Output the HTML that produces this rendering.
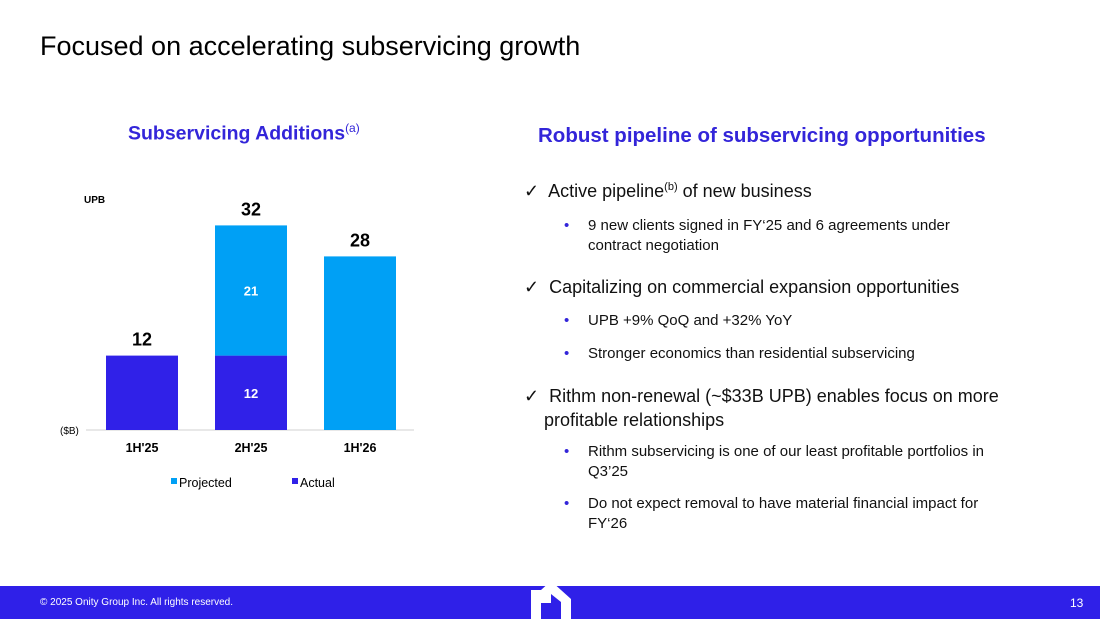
<!DOCTYPE html>
<html><head><meta charset="utf-8"><style>
body{margin:0;width:1100px;height:619px;position:relative;background:#fff;font-family:"Liberation Sans",sans-serif;overflow:hidden}
.a{position:absolute}
.h{color:#3325d9;font-weight:bold;font-size:20px}
.ck{font-size:18px;color:#111}
.sb{font-size:15px;color:#111;line-height:20px}
.sb .d{position:absolute;left:-24px;color:#3325d9}
</style></head><body>
<div class="a" style="left:40px;top:31px;font-size:27px;color:#000">Focused on accelerating subservicing growth</div>
<div class="a h" style="left:128px;top:121px;font-size:19.5px">Subservicing Additions<sup style="font-size:12px;font-weight:normal">(a)</sup></div>
<div class="a h" style="left:538px;top:124px;font-size:20.5px">Robust pipeline of subservicing opportunities</div>
<svg class="a" style="left:0;top:0" width="1100" height="619" id="ch"></svg>
<div>
<div class="a ck" style="left:524px;top:181px">✓&nbsp; Active pipeline<sup style="font-size:11px">(b)</sup> of new business</div>
<div class="a sb" style="left:588px;top:216px;width:400px"><span class="d">•</span>9 new clients signed in FY‘25 and 6 agreements under contract negotiation</div>
<div class="a ck" style="left:524px;top:277px">✓&nbsp; Capitalizing on commercial expansion opportunities</div>
<div class="a sb" style="left:588px;top:311px"><span class="d">•</span>UPB +9% QoQ and +32% YoY</div>
<div class="a sb" style="left:588px;top:344px"><span class="d">•</span>Stronger economics than residential subservicing</div>
<div class="a ck" style="left:524px;top:384px;width:500px;line-height:24px">✓&nbsp; Rithm non-renewal (~$33B UPB) enables focus on more<br>&nbsp;&nbsp;&nbsp;&nbsp;profitable relationships</div>
<div class="a sb" style="left:588px;top:442px;width:420px"><span class="d">•</span>Rithm subservicing is one of our least profitable portfolios in Q3’25</div>
<div class="a sb" style="left:588px;top:494px;width:420px"><span class="d">•</span>Do not expect removal to have material financial impact for FY‘26</div>
</div>
<div class="a" style="left:0;top:586px;width:1100px;height:33px;background:#2f20e8"></div>
<div class="a" style="left:40px;top:597px;font-size:10px;color:#fff">© 2025 Onity Group Inc. All rights reserved.</div>
<div class="a" style="left:1070px;top:596px;font-size:12px;color:#fff">13</div>
<svg class="a" style="left:528px;top:578px" width="46" height="41"><path d="M3 41V12H13L23 3L43 21V41H33V24L23 16V25H13V41Z" fill="#fff"/><rect x="14" y="27" width="8" height="14" fill="#2f20e8"/></svg>
<script>
const categories=["1H'25","2H'25","1H'26"];
const actual=[12,12,0];
const projected=[0,21,28];
const totals=["12","32","28"];
const svg=document.getElementById('ch');const NS='http://www.w3.org/2000/svg';
const base=430,scale=6.2,x0=106,step=109,bw=72;
const y=v=>base-v*scale;
function el(t,a,txt){const e=document.createElementNS(NS,t);for(const k in a)e.setAttribute(k,a[k]);if(txt!=null)e.textContent=txt;svg.appendChild(e);return e;}
let ax=el('line',{x1:86,x2:414,y1:base,y2:base,stroke:'#d0d0d0','stroke-width':1});


categories.forEach((c,i)=>{
 const x=x0+i*step;
 if(actual[i]>0){const r=el('rect',{x:x,y:y(actual[i]),width:bw,height:actual[i]*scale,fill:'#3021e8'});
 
 }
 if(projected[i]>0){const r=el('rect',{x:x,y:y(actual[i]+projected[i]),width:bw,height:projected[i]*scale,fill:'#00a0f5'});
 
 }
 if(actual[i]>0&&projected[i]>0){
  el('text',{x:x+bw/2,y:y(actual[i]/2)+5,'text-anchor':'middle',fill:'#fff','font-size':13,'font-weight':'bold'},actual[i]);
  el('text',{x:x+bw/2,y:y(actual[i]+projected[i]/2)+5,'text-anchor':'middle',fill:'#fff','font-size':13,'font-weight':'bold'},projected[i]);
 }
 const t=el('text',{x:x+bw/2,y:y(actual[i]+projected[i])-10,'text-anchor':'middle','font-size':18,'font-weight':'bold'},totals[i]);
 
 
 const l=el('text',{x:x+bw/2,y:452,'text-anchor':'middle','font-size':12.5,'font-weight':'bold'},c);
 
 
});
el('text',{x:84,y:203,'font-size':10,'font-weight':'bold'},'UPB');
el('text',{x:60,y:434,'font-size':10},'($B)');
el('rect',{x:171,y:478,width:6,height:6,fill:'#00a0f5'});
el('text',{x:179,y:487,'font-size':12.5},'Projected');
el('rect',{x:292,y:478,width:6,height:6,fill:'#3021e8'});
el('text',{x:300,y:487,'font-size':12.5},'Actual');
</script>
</body></html>
